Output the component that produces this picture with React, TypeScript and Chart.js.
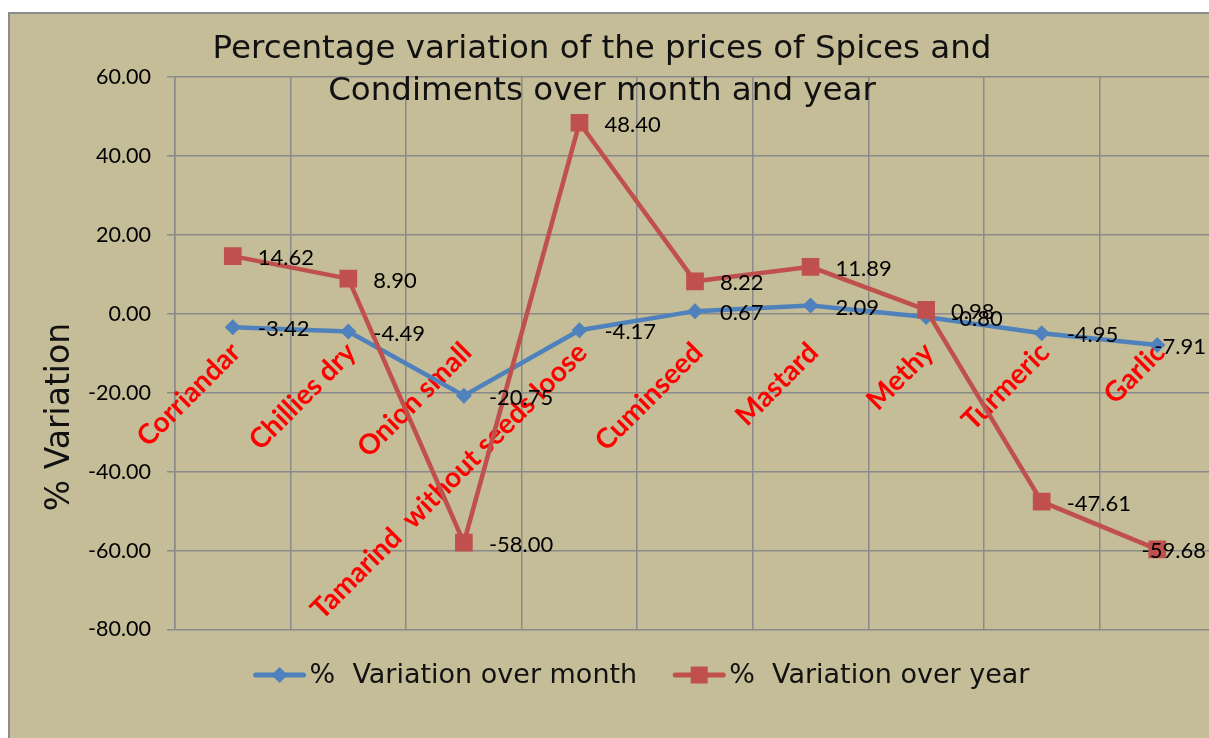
import React, { useEffect, useRef } from "react";
import { Chart, registerables } from "chart.js";

Chart.register(...registerables);

const categories = [
  "Corriandar",
  "Chillies dry",
  "Onion small",
  "Tamarind  without seeds loose",
  "Cuminseed",
  "Mastard",
  "Methy",
  "Turmeric",
  "Garlic",
];
const monthValues = [-3.42, -4.49, -20.75, -4.17, 0.67, 2.09, -0.8, -4.95, -7.91];
const yearValues = [14.62, 8.9, -58.0, 48.4, 8.22, 11.89, 0.98, -47.61, -59.68];
const seriesNames = ["%  Variation over month", "%  Variation over year"];
const titleLines = [
  "Percentage variation of the prices of Spices and",
  "Condiments over month and year",
];
const yAxisTitle = "% Variation";
const yMin = -80;
const yMax = 60;
const yStep = 20;

const W = 1240;
const H = 740;
const BG = "#C4BD97";
const GRID = "#8A8A8A";
const BLUE = "#4F81BD";
const RED = "#C0504D";
const NUM_FONT = "Lato, 'Open Sans', sans-serif";
const TXT_FONT = "'DejaVu Sans', Verdana, sans-serif";
const LABEL_RIGHT_LIMIT = 1198;

const decorPlugin = {
  id: "decor",
  beforeDraw(chart: any) {
    const ctx = chart.ctx;
    ctx.save();
    ctx.fillStyle = BG;
    ctx.fillRect(0, 0, chart.width, chart.height);
    ctx.strokeStyle = "#8C8C8C";
    ctx.lineWidth = 2;
    ctx.strokeRect(1, 1, chart.width + 10, chart.height + 10);
    ctx.restore();
  },
  beforeDatasetsDraw(chart: any) {
    const ctx = chart.ctx;
    const xs = chart.scales.x;
    const ys = chart.scales.y;
    const y0 = ys.getPixelForValue(0);
    ctx.save();
    ctx.fillStyle = "#FF0000";
    ctx.font = `bold 28px ${NUM_FONT}`;
    ctx.textAlign = "right";
    ctx.textBaseline = "middle";
    categories.forEach((c, i) => {
      const x = xs.getPixelForValue(i);
      ctx.save();
      ctx.translate(x + 3, y0 + 34);
      ctx.rotate(-Math.PI / 4);
      ctx.fillText(c, 0, 0);
      ctx.restore();
    });
    ctx.restore();
  },
  afterDatasetsDraw(chart: any) {
    const ctx = chart.ctx;
    ctx.save();
    // data labels
    ctx.fillStyle = "#000";
    ctx.font = `22px ${NUM_FONT}`;
    ctx.textAlign = "left";
    ctx.textBaseline = "middle";
    [0, 1].forEach((di) => {
      const meta = chart.getDatasetMeta(di);
      const vals = chart.data.datasets[di].data as number[];
      meta.data.forEach((pt: any, i: number) => {
        const t = vals[i].toFixed(2);
        const w = ctx.measureText(t).width;
        let lx = pt.x + 25;
        if (lx + w > LABEL_RIGHT_LIMIT) lx = LABEL_RIGHT_LIMIT - w;
        ctx.fillText(t, lx, pt.y + 2);
      });
    });
    // title
    ctx.fillStyle = "#111";
    ctx.font = `32.5px ${TXT_FONT}`;
    ctx.textAlign = "center";
    ctx.fillText(titleLines[0], 594, 38);
    ctx.fillText(titleLines[1], 594, 80);
    // y axis title
    ctx.save();
    ctx.font = `33px ${TXT_FONT}`;
    ctx.translate(52, 405);
    ctx.rotate(-Math.PI / 2);
    ctx.fillText(yAxisTitle, 0, 0);
    ctx.restore();
    // legend
    ctx.font = `27px ${TXT_FONT}`;
    const lineLen = 52;
    const gapText = 4;
    const gapItems = 36;
    const tw = seriesNames.map((s) => ctx.measureText(s).width);
    const total = lineLen * 2 + gapText * 2 + tw[0] + tw[1] + gapItems;
    let x = 633.5 - total / 2;
    const ly = 663;
    const colors = [BLUE, RED];
    seriesNames.forEach((s, i) => {
      ctx.strokeStyle = colors[i];
      ctx.fillStyle = colors[i];
      ctx.lineWidth = 5;
      ctx.lineCap = "round";
      ctx.beginPath();
      ctx.moveTo(x + 2, ly);
      ctx.lineTo(x + lineLen - 2, ly);
      ctx.stroke();
      const cx = x + lineLen / 2;
      ctx.beginPath();
      if (i === 0) {
        ctx.moveTo(cx, ly - 8);
        ctx.lineTo(cx + 8, ly);
        ctx.lineTo(cx, ly + 8);
        ctx.lineTo(cx - 8, ly);
        ctx.closePath();
      } else {
        ctx.rect(cx - 8.5, ly - 8.5, 17, 17);
      }
      ctx.fill();
      ctx.fillStyle = "#111";
      ctx.textAlign = "left";
      ctx.fillText(s, x + lineLen + gapText, ly + 1);
      x += lineLen + gapText + tw[i] + gapItems;
    });
    ctx.restore();
  },
};

export default function App() {
  const ref = useRef<HTMLCanvasElement>(null);
  useEffect(() => {
    if (!ref.current) return;
    const chart = new Chart(ref.current, {
      type: "line",
      data: {
        labels: categories,
        datasets: [
          {
            label: seriesNames[0],
            data: monthValues,
            borderColor: BLUE,
            backgroundColor: BLUE,
            borderWidth: 4.5,
            pointStyle: "rectRot",
            pointRadius: 8,
            pointBorderWidth: 0,
            tension: 0,
            order: 1,
          },
          {
            label: seriesNames[1],
            data: yearValues,
            borderColor: RED,
            backgroundColor: RED,
            borderWidth: 4.5,
            pointStyle: "rect",
            pointRadius: 12.5,
            pointBorderWidth: 0,
            tension: 0,
            order: 0,
          },
        ],
      },
      options: {
        responsive: false,
        animation: false,
        devicePixelRatio: 1,
        layout: { padding: { left: 0, top: 65, right: W - 1207, bottom: H - 617.5 } },
        plugins: {
          legend: { display: false },
          title: { display: false },
          tooltip: { enabled: false },
        },
        scales: {
          x: {
            type: "category",
            offset: true,
            grid: { offset: true, color: GRID, lineWidth: 1.5, drawTicks: false },
            border: { display: false },
            ticks: { display: false },
            afterFit: (s: any) => {
              s.height = 0;
            },
          },
          y: {
            min: yMin,
            max: yMax,
            ticks: {
              stepSize: yStep,
              padding: 16,
              color: "#000",
              font: { family: NUM_FONT, size: 21.5 },
              callback: (v: any) => Number(v).toFixed(2),
            },
            grid: { color: GRID, lineWidth: 1.5, tickLength: 8 },
            border: { color: GRID, width: 1.5 },
            afterFit: (s: any) => {
              s.width = 167;
            },
          },
        },
      },
      plugins: [decorPlugin],
    });
    return () => chart.destroy();
  }, []);
  return (
    <div
      style={{
        position: "fixed",
        left: 8,
        top: 12,
        right: 0,
        bottom: 0,
        overflow: "hidden",
      }}
    >
      <canvas ref={ref} width={W} height={H} style={{ width: W, height: H, display: "block" }} />
    </div>
  );
}
